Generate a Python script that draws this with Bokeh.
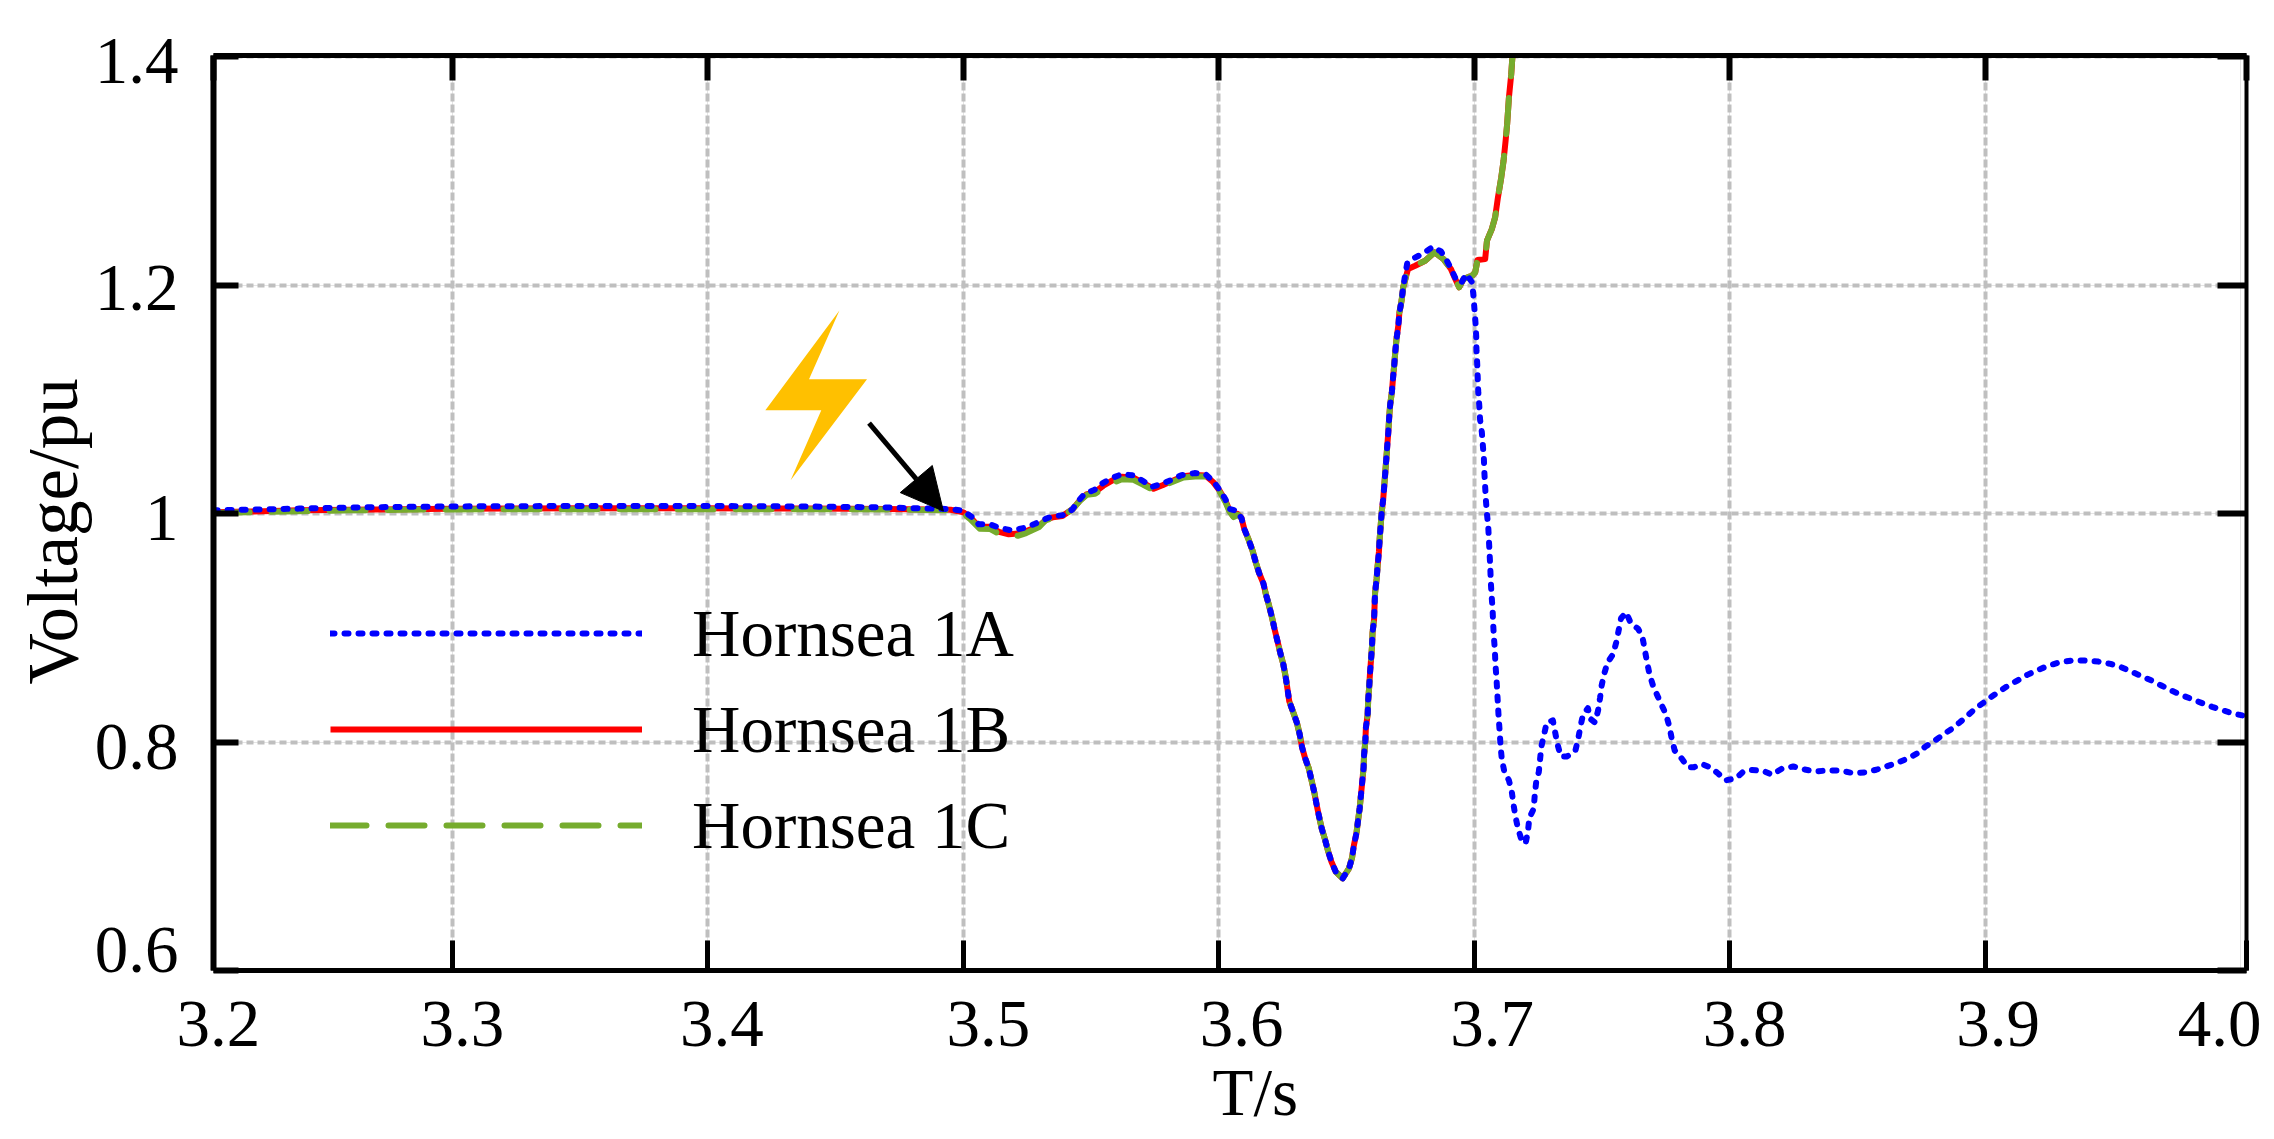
from bokeh.plotting import figure
from bokeh.models import (Range1d, LinearAxis, FixedTicker, Grid, Legend, LegendItem, Arrow, NormalHead,
                          AllLabels, Title)
from bokeh.embed import file_html
from bokeh.resources import INLINE

# ---- values ----
t_flat = [3.2065, 3.22, 3.24, 3.26, 3.28, 3.30, 3.35, 3.40, 3.44, 3.47]
vA_flat = [1.0031, 1.0035, 1.0045, 1.0054, 1.0060, 1.0064, 1.0068, 1.0068, 1.0063, 1.0055]
vB_flat = [1.0012, 1.0019, 1.0030, 1.0036, 1.0040, 1.0044, 1.0048, 1.0048, 1.0046, 1.0042]
vC_flat = [1.0006, 1.0012, 1.0022, 1.0030, 1.0035, 1.0038, 1.0040, 1.0040, 1.0040, 1.0038]

t_A_disturb = [3.4953, 3.4999, 3.5034, 3.5060, 3.5103, 3.5145, 3.5189, 3.5236, 3.5275, 3.5309, 3.5343, 3.5389,
               3.5426, 3.5450, 3.5475, 3.5514, 3.5546, 3.5583, 3.5622, 3.5666, 3.5702, 3.5739, 3.5776, 3.5816,
               3.5854, 3.5905, 3.5949, 3.5979, 3.6003, 3.6025, 3.6044, 3.6070]
v_A_disturb = [1.0041, 1.0026, 0.9971, 0.9907, 0.9907, 0.9875, 0.9854, 0.9875, 0.9907, 0.9942, 0.9974, 0.9988,
               1.0035, 1.0111, 1.0175, 1.0210, 1.0268, 1.0315, 1.0347, 1.0335, 1.0289, 1.0236, 1.0262, 1.0297,
               1.0338, 1.0356, 1.0344, 1.0283, 1.0210, 1.0131, 1.0041, 1.0026]

t_B_disturb = [3.4950, 3.5001, 3.5030, 3.5062, 3.5104, 3.5140, 3.5178, 3.5220, 3.5250, 3.5297, 3.5325, 3.5350,
               3.5388, 3.5430, 3.5456, 3.5482, 3.5515, 3.5548, 3.5582, 3.5622, 3.5666, 3.5704, 3.5745, 3.5782,
               3.5820, 3.5860, 3.5906, 3.5948, 3.5979, 3.6003, 3.6025, 3.6042, 3.6056, 3.6073]
v_B_disturb = [1.0035, 1.0012, 0.9962, 0.9885, 0.9885, 0.9842, 0.9820, 0.9828, 0.9850, 0.9895, 0.9950, 0.9968,
               0.9980, 1.0045, 1.0116, 1.0170, 1.0190, 1.0245, 1.0290, 1.0325, 1.0315, 1.0270, 1.0218, 1.0252,
               1.0290, 1.0328, 1.0340, 1.0335, 1.0275, 1.0203, 1.0120, 1.0030, 0.9980, 1.0000]

t_C_disturb = [3.4950, 3.5001, 3.5027, 3.5064, 3.5106, 3.5138, 3.5177, 3.5216, 3.5246, 3.5297, 3.5321, 3.5347,
               3.5386, 3.5432, 3.5458, 3.5484, 3.5516, 3.5549, 3.5582, 3.5621, 3.5666, 3.5705, 3.5747, 3.5784,
               3.5823, 3.5862, 3.5908, 3.5947, 3.5979, 3.6003, 3.6025, 3.6042, 3.6058, 3.6075]
v_C_disturb = [1.0030, 1.0000, 0.9953, 0.9869, 0.9866, 0.9825, 0.9802, 0.9808, 0.9831, 0.9883, 0.9942, 0.9959,
               0.9971, 1.0050, 1.0117, 1.0166, 1.0175, 1.0225, 1.0268, 1.0303, 1.0297, 1.0254, 1.0204, 1.0245,
               1.0283, 1.0318, 1.0327, 1.0327, 1.0268, 1.0195, 1.0108, 1.0020, 0.9971, 0.9991]

t_swing = [3.6089, 3.6100, 3.6117, 3.6132, 3.6145, 3.6158, 3.6175, 3.6185, 3.6197, 3.6209, 3.6219, 3.6230,
           3.6241, 3.6253, 3.6262, 3.6269, 3.6276, 3.6291, 3.6306, 3.6317, 3.6326, 3.6338, 3.6353, 3.6364,
           3.6374, 3.6383, 3.6393, 3.6403, 3.6416, 3.6428, 3.6441, 3.6458, 3.6485, 3.6510, 3.6522, 3.6529,
           3.6539, 3.6545, 3.6552, 3.6557, 3.6562, 3.6567, 3.6569, 3.6574, 3.6576, 3.6583, 3.6585, 3.6589,
           3.6592, 3.6596, 3.6600, 3.6602, 3.6608, 3.6610, 3.6612, 3.6618, 3.6622, 3.6627, 3.6630, 3.6634,
           3.6638, 3.6644, 3.6648, 3.6652, 3.6656, 3.6660, 3.6664, 3.6667, 3.6671, 3.6678, 3.6682, 3.6687,
           3.6691, 3.6696, 3.6703, 3.6707, 3.6716, 3.6722]
v_swing = [0.9962, 0.9866, 0.9773, 0.9679, 0.9574, 0.9481, 0.9388, 0.9291, 0.9195, 0.9087, 0.8985, 0.8883,
           0.8781, 0.8679, 0.8571, 0.8466, 0.8358, 0.8265, 0.8169, 0.8067, 0.7956, 0.7860, 0.7766, 0.7658,
           0.7562, 0.7454, 0.7346, 0.7244, 0.7148, 0.7046, 0.6953, 0.6865, 0.6807, 0.6894, 0.6988, 0.7096,
           0.7201, 0.7309, 0.7425, 0.7542, 0.7658, 0.7775, 0.7892, 0.8008, 0.8125, 0.8242, 0.8367, 0.8484,
           0.8600, 0.8717, 0.8839, 0.8956, 0.9073, 0.9189, 0.9306, 0.9428, 0.9545, 0.9665, 0.9781, 0.9898,
           1.0015, 1.0131, 1.0247, 1.0364, 1.0481, 1.0603, 1.0720, 1.0837, 1.0953, 1.1070, 1.1181, 1.1303,
           1.1414, 1.1531, 1.1647, 1.1758, 1.1869, 1.1983]

t_A_after = [3.6730, 3.6738, 3.6765, 3.6803, 3.6838, 3.6870, 3.6893, 3.6911, 3.6928, 3.6949, 3.6969, 3.6992,
             3.6997, 3.7001, 3.7005, 3.7008, 3.7009, 3.7012, 3.7014, 3.7016, 3.7020, 3.7023, 3.7030, 3.7034,
             3.7038, 3.7040, 3.7043, 3.7046, 3.7050, 3.7055, 3.7063, 3.7065, 3.7068, 3.7072, 3.7074, 3.7077,
             3.7081, 3.7083, 3.7087, 3.7090, 3.7093, 3.7096, 3.7100, 3.7103, 3.7108, 3.7117, 3.7136, 3.7147,
             3.7154, 3.7162, 3.7172, 3.7185, 3.7201, 3.7210, 3.7216, 3.7233, 3.7237, 3.7243, 3.7253, 3.7258,
             3.7263, 3.7274, 3.7284, 3.7308, 3.7317, 3.7326, 3.7339, 3.7364, 3.7396, 3.7407, 3.7416, 3.7426,
             3.7445, 3.7455, 3.7473, 3.7485, 3.7493, 3.7499, 3.7509, 3.7522, 3.7544, 3.7557, 3.7566, 3.7575,
             3.7595, 3.7613, 3.7642, 3.7659, 3.7668, 3.7677, 3.7687, 3.7700, 3.7717, 3.7734, 3.7752, 3.7765,
             3.7773, 3.7785, 3.7811, 3.7836, 3.7861, 3.7892, 3.7928, 3.7956, 3.7983, 3.8024, 3.8053, 3.8087,
             3.8131, 3.8166, 3.8204, 3.8249, 3.8291, 3.8338, 3.8383, 3.8434, 3.8481, 3.8529, 3.8574, 3.8617,
             3.8659, 3.8698, 3.8736, 3.8767, 3.8801, 3.8835, 3.8868, 3.8899, 3.8931, 3.8959, 3.8993, 3.9025,
             3.9060, 3.9093, 3.9129, 3.9165, 3.9205, 3.9246, 3.9288, 3.9337, 3.9389, 3.9442, 3.9491, 3.9533,
             3.9572, 3.9613, 3.9652, 3.9690, 3.9726, 3.9767, 3.9807, 3.9847, 3.9889, 3.9932, 3.9977, 4.0022]
v_A_after = [1.2093, 1.2195, 1.2239, 1.2283, 1.2338, 1.2297, 1.2216, 1.2137, 1.2055, 1.2020, 1.2099, 1.2026,
             1.1910, 1.1793, 1.1676, 1.1551, 1.1428, 1.1306, 1.1186, 1.1064, 1.0947, 1.0825, 1.0714, 1.0597,
             1.0481, 1.0358, 1.0233, 1.0116, 1.0000, 0.9889, 0.9531, 0.9405, 0.9289, 0.9166, 0.9047, 0.8924,
             0.8808, 0.8685, 0.8569, 0.8449, 0.8327, 0.8210, 0.8087, 0.7971, 0.7854, 0.7752, 0.7665, 0.7568,
             0.7452, 0.7344, 0.7239, 0.7146, 0.7111, 0.7210, 0.7335, 0.7417, 0.7533, 0.7656, 0.7738, 0.7851,
             0.7962, 0.8070, 0.8172, 0.8190, 0.8085, 0.7983, 0.7875, 0.7875, 0.7924, 0.8026, 0.8137, 0.8239,
             0.8297, 0.8204, 0.8172, 0.8277, 0.8391, 0.8496, 0.8598, 0.8697, 0.8770, 0.8881, 0.8983, 0.9085,
             0.9137, 0.9041, 0.8991, 0.8916, 0.8808, 0.8697, 0.8589, 0.8496, 0.8408, 0.8324, 0.8236, 0.8128,
             0.8035, 0.7927, 0.7860, 0.7781, 0.7781, 0.7808, 0.7775, 0.7723, 0.7665, 0.7682, 0.7740, 0.7755,
             0.7749, 0.7714, 0.7767, 0.7787, 0.7761, 0.7743, 0.7752, 0.7752, 0.7729, 0.7735, 0.7758, 0.7790,
             0.7822, 0.7857, 0.7904, 0.7962, 0.8009, 0.8064, 0.8114, 0.8169, 0.8230, 0.8289, 0.8344, 0.8397,
             0.8449, 0.8499, 0.8542, 0.8589, 0.8630, 0.8668, 0.8697, 0.8714, 0.8714, 0.8706, 0.8685, 0.8656,
             0.8618, 0.8577, 0.8539, 0.8496, 0.8455, 0.8414, 0.8379, 0.8344, 0.8309, 0.8277, 0.8248, 0.8227]

t_BC_after = [3.6730, 3.6741, 3.6769, 3.6808, 3.6845, 3.6880, 3.6909, 3.6926, 3.6941, 3.6958, 3.6992, 3.7004,
              3.7013, 3.7043, 3.7050, 3.7069, 3.7082, 3.7093, 3.7106, 3.7115, 3.7123, 3.7129, 3.7136, 3.7145,
              3.7149, 3.7151]
v_BC_after = [1.2050, 1.2143, 1.2172, 1.2216, 1.2289, 1.2230, 1.2143, 1.2055, 1.1983, 1.2055, 1.2085, 1.2114,
              1.2222, 1.2230, 1.2391, 1.2493, 1.2595, 1.2770, 1.2945, 1.3091, 1.3266, 1.3411, 1.3645, 1.3849,
              1.3980, 1.4020]

x_values = [3.2, 3.3, 3.4, 3.5, 3.6, 3.7, 3.8, 3.9, 4.0]
x_labels = ["3.2", "3.3", "3.4", "3.5", "3.6", "3.7", "3.8", "3.9", "4.0"]
y_values = [0.6, 0.8, 1.0, 1.2, 1.4]
y_labels = ["0.6", "0.8", "1", "1.2", "1.4"]
series_names = ["Hornsea 1A", "Hornsea 1B", "Hornsea 1C"]

# event marker (bolt outline and arrow ends, in axis units)
bolt_t = [3.4515, 3.4396, 3.4623, 3.4324, 3.4444, 3.4225]
bolt_v = [1.178, 1.1178, 1.1178, 1.0294, 1.0907, 1.0907]
arrow_t = [3.4631, 3.4922]
arrow_v = [1.0793, 1.0023]

# ---- layout ----
X_START, X_END = 3.20646, 4.00235
Y_START, Y_END = 0.6, 1.4013
PX_PER_X = 2555.0
PX_PER_Y = 1143.0
FONT = "Liberation Serif"
SIZE = "67px"
x_label_shift_px = [5, 10, 14, 25, 23, 18, 15, 13, -27]
y_label_shift_px = [21, -5, -4, -3, -4]   # upward positive

p = figure(frame_width=2033, frame_height=915, min_border_left=213, min_border_right=22,
           min_border_top=55, min_border_bottom=163, output_backend="svg", toolbar_location=None,
           x_range=Range1d(X_START, X_END), y_range=Range1d(Y_START, Y_END),
           x_axis_location=None, y_axis_location=None, background_fill_color="white",
           border_fill_color="white", outline_line_color=None)

# the axis ends sit a little past the nominal 3.2 and 4.0 in the source figure
x_ticks = [X_START] + x_values[1:-1] + [X_END]
y_ticks = y_values[:-1] + [1.4]

p.add_layout(Grid(dimension=0, ticker=FixedTicker(ticks=x_ticks), grid_line_color="#BFBFBF",
                  grid_line_width=4, grid_line_dash=[8, 3]))
p.add_layout(Grid(dimension=1, ticker=FixedTicker(ticks=y_ticks), grid_line_color="#BFBFBF",
                  grid_line_width=4, grid_line_dash=[7, 4]))

def frame_axis(ticks, tick_len, line_width, tick_width):
    blank = {t: "" for t in ticks}
    return LinearAxis(ticker=FixedTicker(ticks=ticks), major_label_overrides=blank,
                      major_tick_in=tick_len, major_tick_out=0, minor_tick_line_color=None,
                      axis_line_color="black", axis_line_width=line_width,
                      major_tick_line_color="black", major_tick_line_width=tick_width,
                      major_label_text_font_size="1px")

p.add_layout(frame_axis(x_ticks, 30, 5, 5), "below")
p.add_layout(frame_axis(x_ticks, 25, 5, 6), "above")
p.add_layout(frame_axis(y_ticks, 25, 6, 6), "left")
p.add_layout(frame_axis(y_ticks, 29, 4, 6), "right")

# tick texts: the source figure places them a little off their ticks
x_label_pos = [v + s / PX_PER_X for v, s in zip(x_ticks, x_label_shift_px)]
y_label_pos = [v + s / PX_PER_Y for v, s in zip(y_values, y_label_shift_px)]
p.add_layout(LinearAxis(ticker=FixedTicker(ticks=x_label_pos),
                        major_label_overrides=dict(zip(x_label_pos, x_labels)),
                        major_tick_line_color=None, minor_tick_line_color=None, axis_line_color=None,
                        major_label_text_font=FONT, major_label_text_font_size=SIZE,
                        major_label_text_color="black", major_label_standoff=25,
                        major_label_policy=AllLabels()), "below")
p.add_layout(LinearAxis(ticker=FixedTicker(ticks=y_label_pos),
                        major_label_overrides=dict(zip(y_label_pos, y_labels)),
                        major_tick_line_color=None, minor_tick_line_color=None, axis_line_color=None,
                        major_label_text_font=FONT, major_label_text_font_size=SIZE,
                        major_label_text_color="black", major_label_standoff=29,
                        major_label_policy=AllLabels()), "left")

t_A = t_flat + t_A_disturb + t_swing + t_A_after
v_A = vA_flat + v_A_disturb + v_swing + v_A_after
t_B = t_flat + t_B_disturb + t_swing + t_BC_after
v_B = vB_flat + v_B_disturb + v_swing + v_BC_after
t_C = t_flat + t_C_disturb + t_swing + t_BC_after
v_C = vC_flat + v_C_disturb + v_swing + v_BC_after

r_b = p.line(t_B, v_B, line_color="#FF0000", line_width=6, line_join="round")
r_c = p.line(t_C, v_C, line_color="#76AC2E", line_width=6, line_join="round", line_cap="round", line_dash=[36, 22])
r_a = p.line(t_A, v_A, line_color="#0000FF", line_width=6, line_join="round", line_cap="round", line_dash=[4, 10])

legend = Legend(items=[LegendItem(label=series_names[0], renderers=[r_a]),
                       LegendItem(label=series_names[1], renderers=[r_b]),
                       LegendItem(label=series_names[2], renderers=[r_c])],
                location=(117, 97), orientation="vertical", glyph_width=312, glyph_height=96,
                label_height=96, label_standoff=50, spacing=0, margin=0, padding=0,
                background_fill_alpha=0, border_line_color=None,
                label_text_font=FONT, label_text_font_size=SIZE, label_text_color="black")
p.add_layout(legend, "center")

p.patch(bolt_t, bolt_v, fill_color="#FFC000", line_color=None)
p.add_layout(Arrow(end=NormalHead(size=42, fill_color="black", line_color="black"),
                   x_start=arrow_t[0], y_start=arrow_v[0], x_end=arrow_t[1], y_end=arrow_v[1],
                   line_color="black", line_width=5))

# axis titles
p.add_layout(Title(text="T/s", align="left", offset=999, text_font=FONT, text_font_size=SIZE,
                   text_font_style="normal", text_color="black", standoff=8), "below")
p.add_layout(Title(text="Voltage/pu", align="left", offset=286, text_font=FONT, text_font_size="71px",
                   text_font_style="normal", text_color="black", standoff=0), "left")

open("out.html", "w").write(file_html(p, INLINE))
